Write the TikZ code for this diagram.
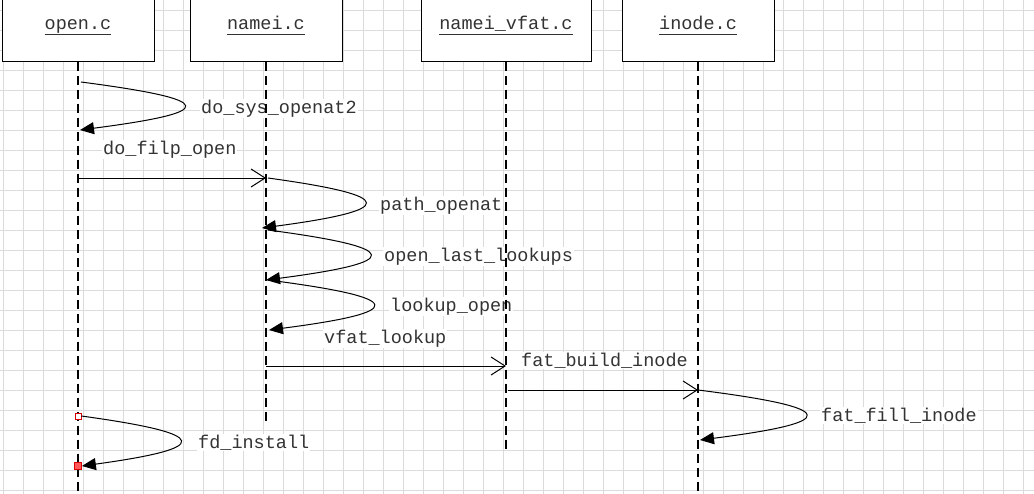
\documentclass[tikz,border=0pt]{standalone}
\usepackage{fontspec}
\setmonofont{Liberation Mono}
\usetikzlibrary{arrows.meta}

\begin{document}
\begin{tikzpicture}[x=1pt, y=-1pt,
  font=\ttfamily\fontsize{18.5}{20}\selectfont,
  gridline/.style={draw=black!14, line width=1pt},
  filebox/.style={draw, fill=white, line width=1pt, minimum height=90pt, inner sep=0pt},
  filename/.style={anchor=base, text=black!80, inner sep=0pt},
  lifeline/.style={line width=1.5pt, dash pattern=on 9pt off 5pt},
  callarrow/.style={line width=1pt, -{Straight Barb[length=14pt, width=18pt, line width=1pt]}},
  selfarrow/.style={line width=1pt, -{Triangle[length=14pt, width=12pt]}},
  msg/.style={anchor=base west, fill=white, text=black!80, inner sep=1pt}]
\useasboundingbox (0,0) rectangle (1034,493);
\clip (0,0) rectangle (1034,493);

% background grid
\draw[gridline, xshift=3pt, yshift=-10pt] (-20,520) grid[step=20pt] (1060,-20);

% files
\node[filebox, minimum width=152pt] (open) at (78,16) {};
\node[filebox, minimum width=152pt] (namei) at (266,16) {};
\node[filebox, minimum width=170pt] (vfat) at (506,16) {};
\node[filebox, minimum width=152pt] (inode) at (698,16) {};
\node[filename] (opent) at (78,29) {\underline{\smash{open.c}\rule[-3.6pt]{0pt}{0pt}}};
\node[filename] (nameit) at (266,29) {\underline{\smash{namei.c}\rule[-3.6pt]{0pt}{0pt}}};
\node[filename] (vfatt) at (506,29) {\underline{\smash{namei\_vfat.c}\rule[-3.6pt]{0pt}{0pt}}};
\node[filename] (inodet) at (698,29) {\underline{\smash{inode.c}\rule[-3.6pt]{0pt}{0pt}}};

% message labels
\node[msg] (l1) at (200,113) {do\_sys\_openat2};
\node[msg] (l2) at (102,154) {do\_filp\_open};
\node[msg] (l3) at (379,210) {path\_openat};
\node[msg] (l4) at (383,261) {open\_last\_lookups};
\node[msg] (l5) at (389,311) {lookup\_open};
\node[msg] (l6) at (323,343) {vfat\_lookup};
\node[msg] (l7) at (520,366) {fat\_build\_inode};
\node[msg] (l8) at (820,421) {fat\_fill\_inode};
\node[msg] (l9) at (197,448) {fd\_install};

% lifelines
\coordinate (openend) at (78,493);
\coordinate (nameiend) at (266,424);
\coordinate (vfatend) at (506,450);
\coordinate (inodeend) at (698,493);
\draw[lifeline] (open.south) -- (openend);
\draw[lifeline] (namei.south) -- (nameiend);
\draw[lifeline] (vfat.south) -- (vfatend);
\draw[lifeline] (inode.south) -- (inodeend);

% calls inside one file
\coordinate (s1a) at (81,82);
\coordinate (s1b) at (80,130);
\draw[selfarrow] (s1a) .. controls +(138,18) and +(138,-18) .. (s1b);
\coordinate (s3a) at (268,178);
\coordinate (s3b) at (262,228);
\draw[selfarrow] (s3a) .. controls +(131,18) and +(135,-18) .. (s3b);
\coordinate (s4a) at (268,230);
\coordinate (s4b) at (266,280);
\draw[selfarrow] (s4a) .. controls +(136,18) and +(138,-18) .. (s4b);
\coordinate (s5a) at (268,280);
\coordinate (s5b) at (269,330);
\draw[selfarrow] (s5a) .. controls +(140,18) and +(139,-18) .. (s5b);
\coordinate (s8a) at (698,390);
\coordinate (s8b) at (700,440);
\draw[selfarrow] (s8a) .. controls +(143,18) and +(141,-18) .. (s8b);

% fd_install with its marks
\node[draw=red!85!black, fill=white, line width=0.8pt, minimum size=6pt, inner sep=0pt] (fdstart) at (78,416) {};
\node[draw=red!85!black, fill=red!65, line width=0.8pt, minimum size=7pt, inner sep=0pt] (fdend) at (78,466) {};
\draw[selfarrow] (fdstart.east) .. controls +(131,18) and +(131,-18) .. (fdend.east);

% calls to the next file
\coordinate (c2a) at (78,178);
\coordinate (c2b) at (266,178);
\draw[callarrow] (c2a) -- (c2b);
\coordinate (c6a) at (266,366);
\coordinate (c6b) at (506,366);
\draw[callarrow] (c6a) -- (c6b);
\coordinate (c7a) at (508,390);
\coordinate (c7b) at (698,390);
\draw[callarrow] (c7a) -- (c7b);
\end{tikzpicture}
\end{document}
